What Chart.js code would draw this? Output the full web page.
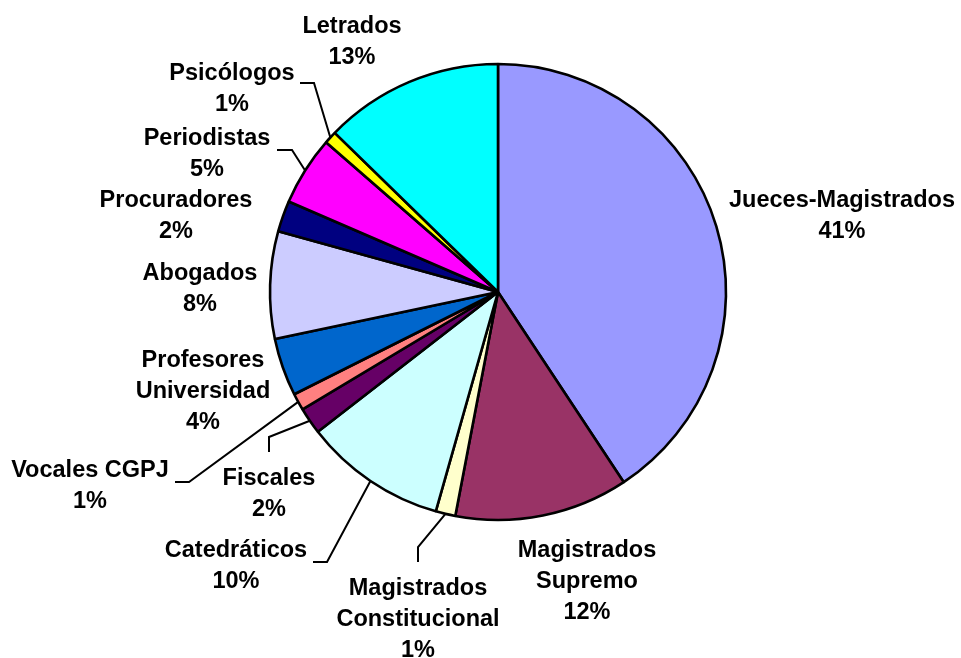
<!DOCTYPE html>
<html><head><meta charset="utf-8">
<script src="https://cdn.jsdelivr.net/npm/chart.js@4/dist/chart.umd.min.js"></script>
<style>html,body{margin:0;padding:0;background:#fff}canvas{display:block}</style>
</head><body>
<canvas id="c" width="961" height="658"></canvas>
<script>
// Categories (clockwise from 12 o'clock)
const categories = [
  ["Jueces-Magistrados"],
  ["Magistrados", "Supremo"],
  ["Magistrados", "Constitucional"],
  ["Catedráticos"],
  ["Fiscales"],
  ["Vocales CGPJ"],
  ["Profesores", "Universidad"],
  ["Abogados"],
  ["Procuradores"],
  ["Periodistas"],
  ["Psicólogos"],
  ["Letrados"]
];
// Share of each category (percent)
const values = [40.7, 12.3, 1.4, 10.1, 1.9, 1.2, 4.1, 7.6, 2.2, 4.9, 0.9, 12.7];
const colors = ["#9999FF", "#993366", "#FFFFCC", "#CCFFFF", "#660066", "#FF8080",
                "#0066CC", "#CCCCFF", "#000080", "#FF00FF", "#FFFF00", "#00FFFF"];

// Label layout: centre x, first baseline y, optional leader [elbow, end]
const labelLayout = [
  {x: 842, y: 207},
  {x: 587, y: 557},
  {x: 418, y: 595, leader: [[418, 547], [418, 562]]},
  {x: 236, y: 557, leader: [[327, 562], [313, 562]]},
  {x: 269, y: 485, leader: [[269, 437], [269, 452]]},
  {x: 90,  y: 477, leader: [[189, 482], [175, 482]]},
  {x: 203, y: 367},
  {x: 200, y: 280},
  {x: 176, y: 207},
  {x: 207, y: 145, leader: [[292, 150], [277, 150]]},
  {x: 232, y: 80,  leader: [[314, 83], [300, 83]]},
  {x: 352, y: 33}
];
const LINE_H = 31;
const FONT = "bold 23.5px 'Liberation Sans', Arial, sans-serif";

const labelPlugin = {
  id: 'pieLabels',
  afterDatasetsDraw(chart) {
    const ctx = chart.ctx;
    const meta = chart.getDatasetMeta(0);
    const data = chart.data.datasets[0].data;
    const total = data.reduce((a, b) => a + b, 0);
    ctx.save();
    meta.data.forEach((arc, i) => {
      const lay = labelLayout[i];
      const p = arc.getProps(['x', 'y', 'startAngle', 'endAngle', 'outerRadius'], true);
      if (lay.leader) {
        const mid = (p.startAngle + p.endAngle) / 2;
        const sx = p.x + Math.cos(mid) * p.outerRadius;
        const sy = p.y + Math.sin(mid) * p.outerRadius;
        ctx.beginPath();
        ctx.moveTo(sx, sy);
        ctx.lineTo(lay.leader[0][0], lay.leader[0][1]);
        ctx.lineTo(lay.leader[1][0], lay.leader[1][1]);
        ctx.strokeStyle = '#000';
        ctx.lineWidth = 2;
        ctx.stroke();
      }
      const lines = categories[i].concat([Math.round(data[i] / total * 100) + '%']);
      ctx.font = FONT;
      ctx.fillStyle = '#000';
      ctx.textAlign = 'center';
      ctx.textBaseline = 'alphabetic';
      lines.forEach((t, k) => ctx.fillText(t, lay.x, lay.y + k * LINE_H));
    });
    ctx.restore();
  }
};

new Chart(document.getElementById('c'), {
  type: 'pie',
  data: {
    labels: categories.map(c => c.join(' ')),
    datasets: [{
      data: values,
      backgroundColor: colors,
      borderColor: '#000',
      borderWidth: 2.6,
      radius: 228
    }]
  },
  options: {
    responsive: false,
    devicePixelRatio: 1,
    animation: false,
    layout: {padding: {left: 270, right: 235, top: 64, bottom: 138}},
    plugins: {legend: {display: false}, tooltip: {enabled: false}}
  },
  plugins: [labelPlugin]
});
</script>
</body></html>
